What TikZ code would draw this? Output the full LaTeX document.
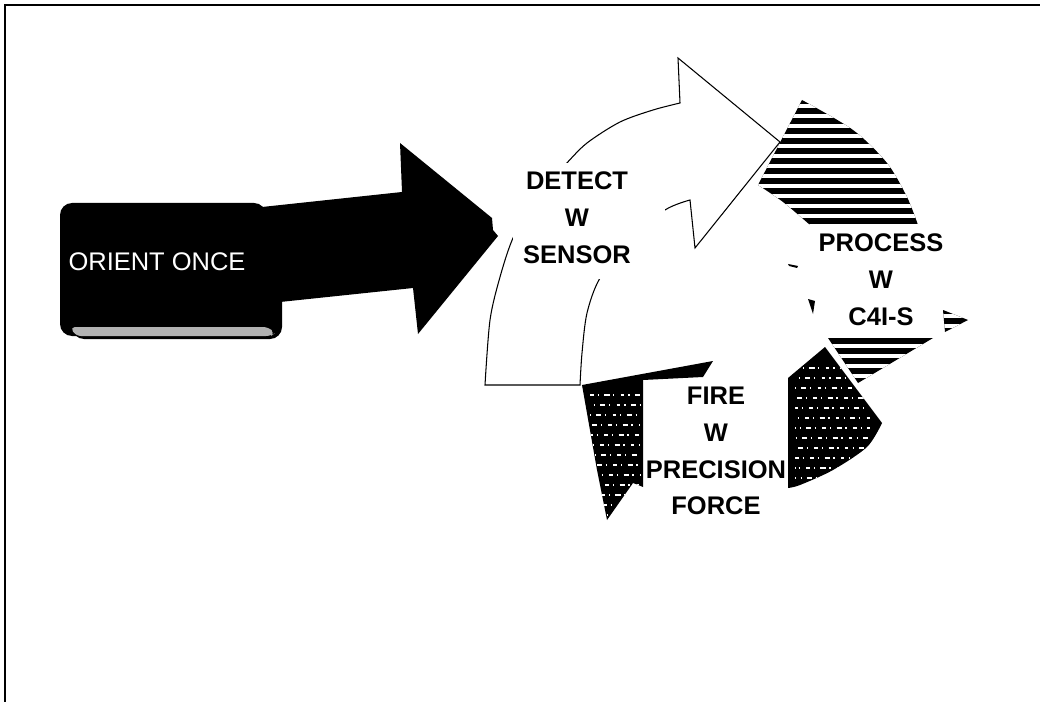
\documentclass[tikz,border=0pt]{standalone}
\usepackage{fontspec}
\setmainfont{Liberation Sans}
\begin{document}
\begin{tikzpicture}[x=0.02cm,y=-0.02cm,
  frameline/.style={line width=1.4pt, draw=black, line cap=rect},
  outline/.style={line width=0.6pt, draw=black, line join=miter},
  ringtext/.style={font=\bfseries\fontsize{14.5pt}{21pt}\selectfont, align=center, inner sep=0pt, text=black},
  hatchfill/.style={fill=black, path picture={
      \foreach \yy in {96,106,...,396} \draw[white, line width=2.1pt] (680,\yy) -- (1000,\yy);}},
  stipplefill/.style={fill=black, path picture={
      \foreach \k in {0,...,16} {%
        \pgfmathsetmacro\stipPh{mod(\k*2.3,12)}%
        \draw[white, line width=0.7pt, dash pattern=on 2pt off 2.5pt on 0.6pt off 3pt on 3pt off 2pt on 0.8pt off 3.5pt, dash phase=\stipPh pt] ({#1 < 380 ? 795 : 590},{#1+10*\k}) -- ({#1 < 380 ? 870 : 640},{#1+10*\k});}}},
]
\useasboundingbox (0,0) rectangle (1040,702);
% frame (top and left edges)
\draw[frameline] (5,702) -- (5,5) -- (1040,5);

% ORIENT ONCE box with 3D depth
\fill[black, rounded corners=0.24cm] (60,203) rectangle (266,336);
\fill[black, rounded corners=0.24cm] (72,212) rectangle (282,339);
\fill[gray!60, rounded corners=0.1cm] (70,327) -- (268,327) -- (275,333) -- (271,336) -- (76,336) -- cycle;
% big black arrow
\fill[black] (262,207) -- (402,192) -- (400,143) -- (492,218) -- (493,230) -- (498,236) -- (418,334) -- (413,288) -- (280,302) -- cycle;
\node[text=white, font=\fontsize{14.5pt}{21pt}\selectfont, inner sep=0pt] (orient) at (157,262) {ORIENT ONCE};

% PROCESS arrow: visible hatched parts
\path[hatchfill] plot[smooth] coordinates {(802,100) (853,130) (887,163) (907,197) (918,225)} -- (810,225) -- plot[smooth] coordinates {(810,225) (783,202) (758,185)} -- cycle;
\path[hatchfill] (828,338) -- (933,338) -- (858,383) -- cycle;
\path[hatchfill] (943,310) -- (968,320) -- (945,332) -- cycle;
\fill[black] (788,264) -- (798,266) -- (797,268) -- (789,266) -- cycle;
\fill[black] (808,299) -- (815,301) -- (813,314) -- cycle;

% DETECT arrow (white, outlined)
\path[fill=white, outline] plot[smooth] coordinates {(485,385) (490,320) (500,277) (513,238) (535,198) (565,165) (587,143) (620,122) (653,110) (680,103)} -- (678,58) -- (780,142) -- (695,248) -- (690,200) -- plot[smooth] coordinates {(690,200) (665,210) (630,240) (600,278) (587,313) (582,353) (580,385)} -- cycle;
% white text background of DETECT label
\fill[white] (513,163) rectangle (665,279);

% FIRE arrow: visible dark parts
\path[stipplefill=395] (582,385) -- (713,361) -- (703,377) -- (643,380) -- (643,487) -- (633,483) -- (607,520) -- (597,470) -- cycle;
\path[stipplefill=368] (788,378) -- (825,347) -- (882,423) -- plot[smooth] coordinates {(882,423) (867,447) (833,470) (800,485) (788,488)} -- cycle;

% labels
\node[ringtext] (detect) at (577,218) {DETECT\\W\\SENSOR};
\node[ringtext] (process) at (881,280) {PROCESS\\W\\C4I-S};
\node[ringtext] (fire) at (716,451) {FIRE\\W\\PRECISION\\FORCE};
\end{tikzpicture}
\end{document}
